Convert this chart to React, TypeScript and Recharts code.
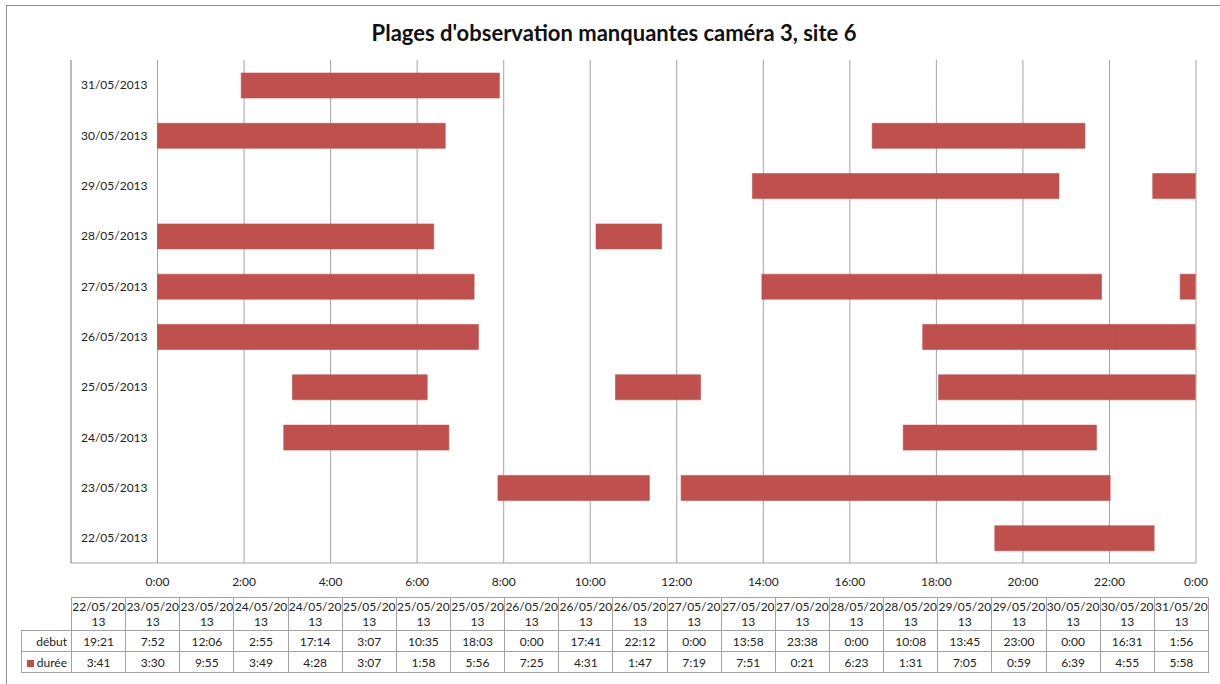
import React from "react";
import { Bar, BarChart, CartesianGrid, XAxis, YAxis } from "recharts";

// one entry per missing slot, as in the sheet's data table
const dates = [
  "22/05/2013", "23/05/2013", "23/05/2013", "24/05/2013", "24/05/2013",
  "25/05/2013", "25/05/2013", "25/05/2013", "26/05/2013", "26/05/2013",
  "26/05/2013", "27/05/2013", "27/05/2013", "27/05/2013", "28/05/2013",
  "28/05/2013", "29/05/2013", "29/05/2013", "30/05/2013", "30/05/2013",
  "31/05/2013",
];
const debut = [
  "19:21", "7:52", "12:06", "2:55", "17:14", "3:07", "10:35", "18:03", "0:00", "17:41",
  "22:12", "0:00", "13:58", "23:38", "0:00", "10:08", "13:45", "23:00", "0:00", "16:31",
  "1:56",
];
const duree = [
  "3:41", "3:30", "9:55", "3:49", "4:28", "3:07", "1:58", "5:56", "7:25", "4:31",
  "1:47", "7:19", "7:51", "0:21", "6:23", "1:31", "7:05", "0:59", "6:39", "4:55",
  "5:58",
];
const hourTicks = [-2, 0, 2, 4, 6, 8, 10, 12, 14, 16, 18, 20, 22, 24];

const RED = "#C0504D";
const GRID = "#a3a3a3";
const TEXT = "#222";
const MAX_SEG = 3;

function toHours(s: string) {
  const [h, m] = s.split(":").map(Number);
  return h + m / 60;
}

// per day: invisible gap then visible duration, stacked
const days = Array.from(new Set(dates));
const rows = days.map((day) => {
  const row: Record<string, string | number> = { day };
  let end = 0;
  let k = 0;
  dates.forEach((d, i) => {
    if (d !== day) return;
    const s = toHours(debut[i]);
    const len = toHours(duree[i]);
    row[`gap${k}`] = s - end;
    row[`dur${k}`] = len;
    end = s + len;
    k++;
  });
  for (; k < MAX_SEG; k++) {
    row[`gap${k}`] = 0;
    row[`dur${k}`] = 0;
  }
  return row;
});

function hourLabel(v: number) {
  if (v < 0) return "";
  return `${v % 24}:00`;
}

const COL_W = 1137 / dates.length;
const cell: React.CSSProperties = {
  border: `1px solid ${GRID}`,
  padding: 0,
  textAlign: "center",
  fontSize: 12,
  color: TEXT,
  whiteSpace: "nowrap",
  overflow: "hidden",
};

export default function App() {
  const segs = Array.from({ length: MAX_SEG }, (_, k) => k);
  return (
    <div
      style={{
        position: "absolute",
        left: 0,
        top: 0,
        width: 1220,
        height: 684,
        overflow: "hidden",
        background: "#fff",
        fontFamily: "Lato, 'Open Sans', sans-serif",
      }}
    >
      <div
        style={{
          position: "absolute",
          left: 6,
          top: 5,
          width: 1240,
          height: 720,
          border: "1px solid #8c8c8c",
        }}
      />
      <div
        style={{
          position: "absolute",
          left: 0,
          top: 20,
          width: 1228,
          textAlign: "center",
          fontSize: 22,
          lineHeight: "26px",
          fontWeight: 700,
          color: "#111",
        }}
      >
        Plages d'observation manquantes caméra 3, site 6
      </div>

      <div style={{ position: "absolute", left: 0, top: 0 }}>
        <BarChart
          width={1220}
          height={684}
          data={rows}
          layout="vertical"
          margin={{ top: 60, right: 24, left: 71, bottom: 91 }}
          barSize={25}
        >
          <CartesianGrid horizontal={false} stroke={GRID} />
          <XAxis
            type="number"
            domain={[-2, 24]}
            ticks={hourTicks}
            tickFormatter={hourLabel}
            interval={0}
            height={30}
            axisLine={{ stroke: GRID }}
            tickLine={false}
            tickSize={0}
            tickMargin={14}
            tick={{ fontSize: 12, fill: TEXT }}
          />
          <YAxis
            type="category"
            dataKey="day"
            reversed
            mirror
            axisLine={{ stroke: GRID }}
            tickLine={false}
            tickSize={0}
            tickMargin={10}
            tick={{ fontSize: 12, fill: TEXT }}
          />
          {segs.map((k) => [
            <Bar
              key={`gap${k}`}
              dataKey={`gap${k}`}
              stackId="a"
              fill="transparent"
              isAnimationActive={false}
            />,
            <Bar
              key={`dur${k}`}
              dataKey={`dur${k}`}
              stackId="a"
              fill={RED}
              stroke={RED}
              strokeWidth={0.6}
              isAnimationActive={false}
            />,
          ])}
        </BarChart>
      </div>

      <table
        style={{
          position: "absolute",
          left: 21,
          top: 597,
          borderCollapse: "collapse",
          tableLayout: "fixed",
          width: 50 + COL_W * dates.length,
        }}
      >
        <colgroup>
          <col style={{ width: 50 }} />
          {dates.map((_, i) => (
            <col key={i} style={{ width: COL_W }} />
          ))}
        </colgroup>
        <tbody>
          <tr style={{ height: 33 }}>
            <td style={{ padding: 0 }} />
            {dates.map((d, i) => (
              <td key={i} style={{ ...cell, lineHeight: "15px" }}>
                {d.slice(0, 8)}
                <br />
                {d.slice(8)}
              </td>
            ))}
          </tr>
          <tr style={{ height: 21 }}>
            <td style={{ ...cell, textAlign: "right", paddingRight: 4 }}>début</td>
            {debut.map((v, i) => (
              <td key={i} style={cell}>{v}</td>
            ))}
          </tr>
          <tr style={{ height: 21 }}>
            <td style={{ ...cell, textAlign: "right", paddingRight: 4 }}>
              <span
                style={{
                  display: "inline-block",
                  width: 7,
                  height: 7,
                  background: RED,
                  marginRight: 3,
                  verticalAlign: "middle",
                }}
              />
              durée
            </td>
            {duree.map((v, i) => (
              <td key={i} style={cell}>{v}</td>
            ))}
          </tr>
        </tbody>
      </table>
    </div>
  );
}
